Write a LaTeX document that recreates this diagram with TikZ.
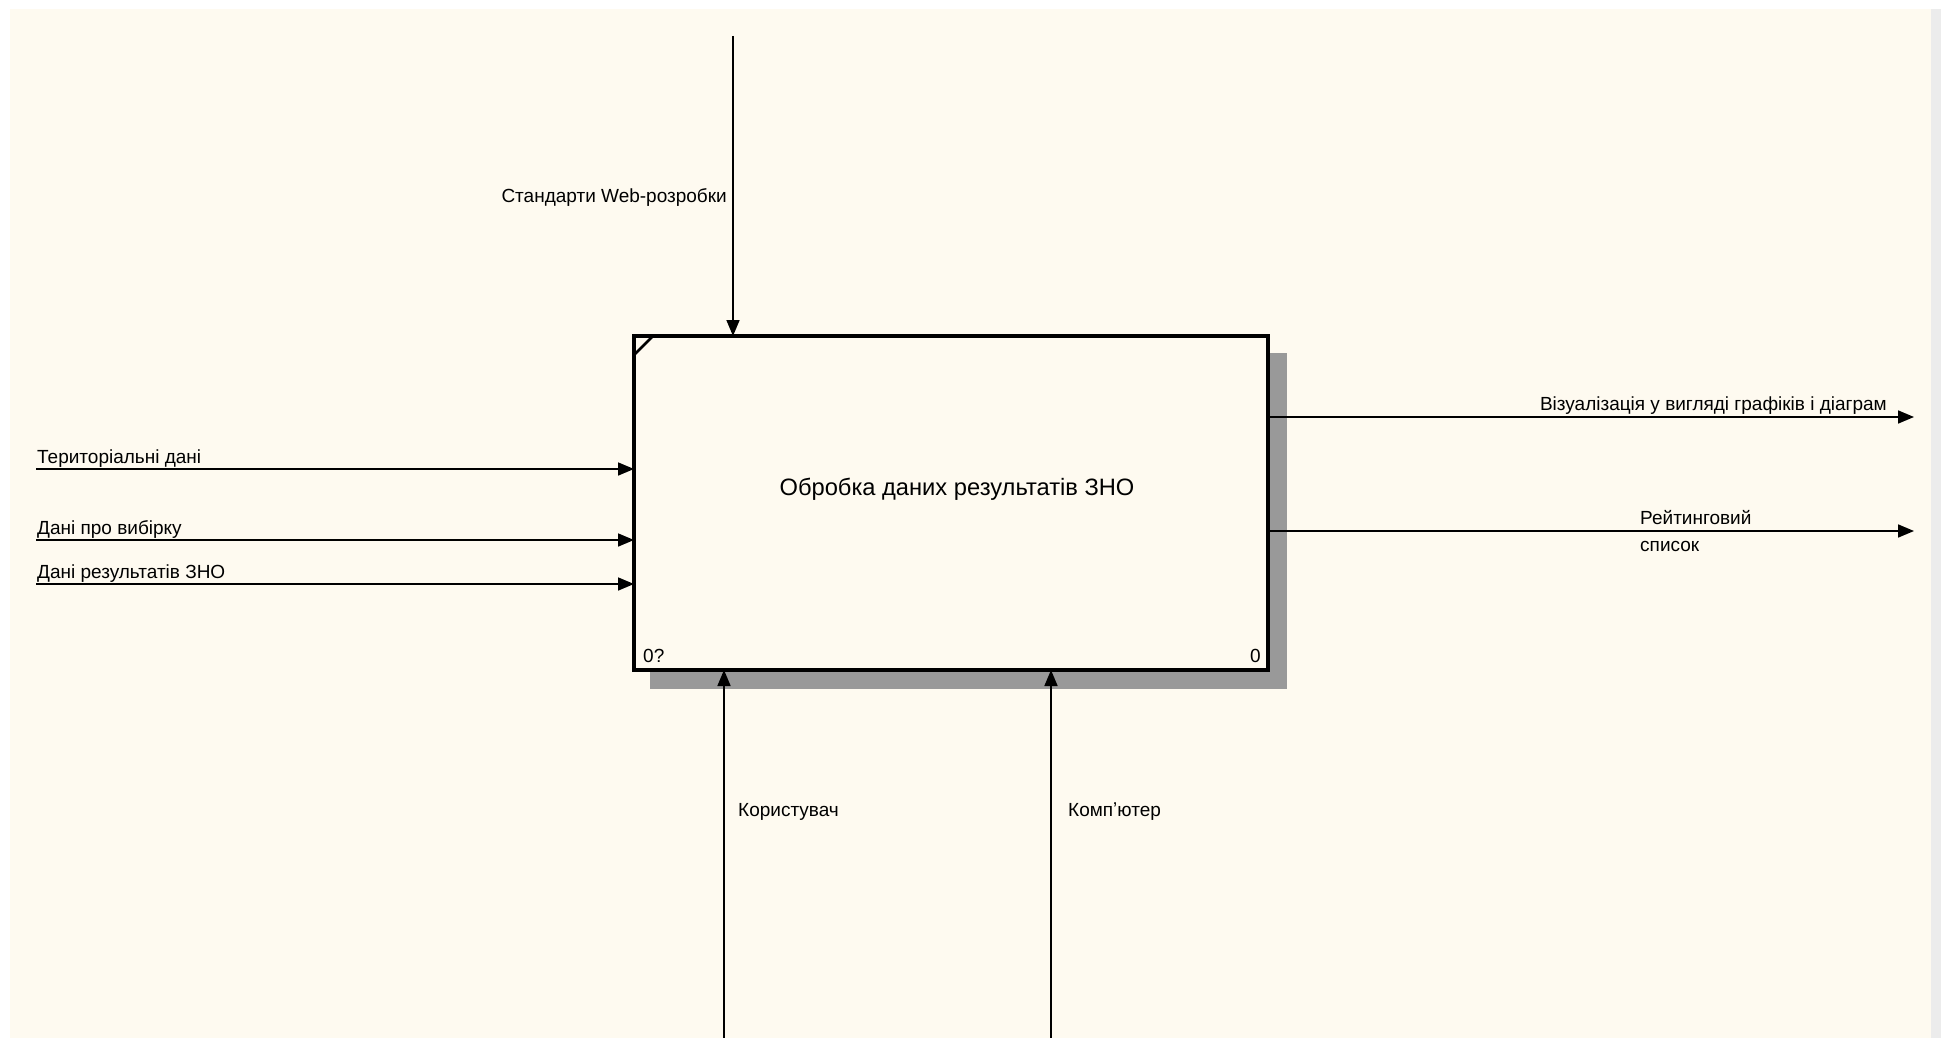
\documentclass[tikz,border=0pt]{standalone}
\usepackage{fontspec}
\usetikzlibrary{arrows.meta,patterns}
\newfontfamily\labfont{Liberation Sans}
\newfontfamily\titlefont{Liberation Sans}
\definecolor{bgcream}{HTML}{FEFAF0}
\definecolor{edgegray}{HTML}{ECECEC}
\begin{document}
\begin{tikzpicture}[x=1pt,y=-1pt,
  arr/.style={line width=1.7pt, -{Triangle[length=16pt,width=13pt]}},
  lab/.style={font=\labfont\fontsize{19}{22}\selectfont, inner sep=0pt},
  ttl/.style={font=\titlefont\fontsize{23.7}{27}\selectfont, inner sep=0pt},
  funcbox/.style={draw, line width=3.5pt, fill=bgcream, outer sep=0pt, inner sep=0pt},
  shade/.style={fill=black!40}
 ]
\useasboundingbox (0,0) rectangle (1941,1038);
\fill[white] (0,0) rectangle (1941,1038);
\fill[bgcream] (10,9) rectangle (1931,1038);
\fill[edgegray] (1931,9) rectangle (1941,1038);
% shadow
\fill[shade] (1268,353) rectangle (1287,689);
\fill[shade] (650,670) rectangle (1287,689);
% box
\node[funcbox, minimum width=634pt, minimum height=334pt, anchor=north west] (box) at (634,336) {};
\draw[line width=2.5pt] ([xshift=19pt]box.north west) -- ([yshift=-19pt]box.north west);
\node[ttl] (title) at (957,489) {Обробка даних результатів ЗНО};
\node[lab, anchor=base west] (num1) at (643,662) {0?};
\node[lab, anchor=base east] (num2) at (1261,662) {0};
% control
\coordinate (c1) at (733,36);
\draw[arr] (c1) -- (c1 |- box.north);
\node[lab, anchor=base east] (lc1) at (727,202) {Стандарти Web-розробки};
% inputs
\coordinate (i1) at (36,469);
\coordinate (i2) at (36,540);
\coordinate (i3) at (36,584);
\draw[arr] (i1) -- (i1 -| box.west);
\draw[arr] (i2) -- (i2 -| box.west);
\draw[arr] (i3) -- (i3 -| box.west);
\node[lab, anchor=base west] (li1) at (37,463) {Територіальні дані};
\node[lab, anchor=base west] (li2) at (37,534) {Дані про вибірку};
\node[lab, anchor=base west] (li3) at (37,578) {Дані результатів ЗНО};
% outputs
\coordinate (o1) at (1914,417);
\coordinate (o2) at (1914,531);
\draw[arr] (o1 -| box.east) -- (o1);
\draw[arr] (o2 -| box.east) -- (o2);
\node[lab, anchor=base east] (lo1) at (1887,410) {Візуалізація у вигляді графіків і діаграм};
\node[lab, anchor=base west] (lo2) at (1640,524) {Рейтинговий};
\node[lab, anchor=base west] (lo3) at (1640,551) {список};
% mechanisms
\coordinate (m1) at (724,1038);
\coordinate (m2) at (1051,1038);
\draw[arr] (m1) -- (m1 |- box.south);
\draw[arr] (m2) -- (m2 |- box.south);
\node[lab, anchor=base west] (lm1) at (738,816) {Користувач};
\node[lab, anchor=base west] (lm2) at (1068,816) {Компʼютер};
\end{tikzpicture}
\end{document}
